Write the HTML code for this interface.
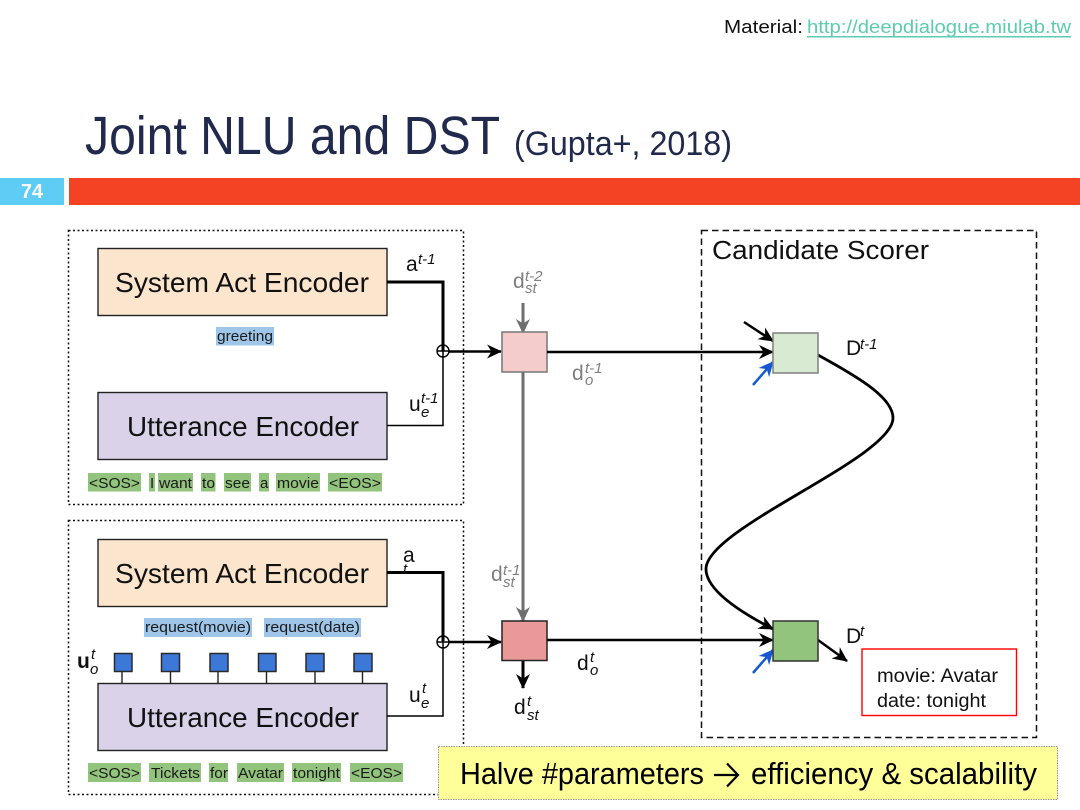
<!DOCTYPE html>
<html><head><meta charset="utf-8"><style>
html,body{margin:0;padding:0;background:#fff}
svg{display:block}
text{font-family:"Liberation Sans",sans-serif;fill:#111}
.enc{font-size:28px}
.tok{font-size:15px;fill:#1a1a1a}
.lb{font-size:21px}
.it{font-style:italic;font-size:15px}
</style></head><body>
<svg width="1080" height="810" viewBox="0 0 1080 810" xmlns="http://www.w3.org/2000/svg">
<defs>
<marker id="k" markerUnits="userSpaceOnUse" markerWidth="16" markerHeight="16" refX="14" refY="8" orient="auto"><path d="M0 1 L15 8 L0 15 L4.500 8 Z" fill="#000"/></marker>
<marker id="gr" markerUnits="userSpaceOnUse" markerWidth="16" markerHeight="16" refX="14" refY="8" orient="auto"><path d="M0 1 L15 8 L0 15 L4.500 8 Z" fill="#6f6f6f"/></marker>
<marker id="bl" markerUnits="userSpaceOnUse" markerWidth="16" markerHeight="16" refX="14" refY="8" orient="auto"><path d="M0 1 L15 8 L0 15 L4.500 8 Z" fill="#1558d6"/></marker>
</defs>

<text x="724" y="33" font-size="18.500" textLength="79" lengthAdjust="spacingAndGlyphs">Material:</text>
<text x="807" y="33" font-size="18.500" style="fill:#5ccbb0" textLength="264" lengthAdjust="spacingAndGlyphs">http://deepdialogue.miulab.tw</text>
<rect x="807" y="36" width="264" height="1.500" fill="#5ccbb0"/>

<text x="85" y="154" font-size="54" style="fill:#212a4c" textLength="415" lengthAdjust="spacingAndGlyphs">Joint NLU and DST</text>
<text x="514" y="155" font-size="34" style="fill:#212a4c" textLength="218" lengthAdjust="spacingAndGlyphs">(Gupta+, 2018)</text>

<rect x="0" y="178" width="64" height="27" fill="#5ecdf5"/>
<rect x="69" y="178" width="1011" height="27" fill="#f44225"/>
<text x="32" y="198" font-size="20" font-weight="bold" text-anchor="middle" style="fill:#fff" textLength="22" lengthAdjust="spacingAndGlyphs">74</text>

<rect x="68.500" y="230.500" width="395" height="274" fill="none" stroke="#111" stroke-width="1.500" stroke-dasharray="2 2.500"/>
<rect x="68.500" y="520.500" width="395" height="274" fill="none" stroke="#111" stroke-width="1.500" stroke-dasharray="2 2.500"/>
<rect x="701.500" y="230.500" width="335" height="507" fill="none" stroke="#111" stroke-width="1.500" stroke-dasharray="6.500 4"/>

<g stroke="#222" stroke-width="1.400">
<rect x="98" y="248.500" width="289" height="67" fill="#fce5cd"/>
<rect x="98" y="392.500" width="289" height="67" fill="#d9d2e9"/>
<rect x="98" y="539.500" width="289" height="67" fill="#fce5cd"/>
<rect x="98" y="683.500" width="289" height="67" fill="#d9d2e9"/>
</g>
<text class="enc" x="115" y="292" textLength="254" lengthAdjust="spacingAndGlyphs">System Act Encoder</text>
<text class="enc" x="127" y="436" textLength="232" lengthAdjust="spacingAndGlyphs">Utterance Encoder</text>
<text class="enc" x="115" y="583" textLength="254" lengthAdjust="spacingAndGlyphs">System Act Encoder</text>
<text class="enc" x="127" y="727" textLength="232" lengthAdjust="spacingAndGlyphs">Utterance Encoder</text>

<g fill="#9fc5e8">
<rect x="216" y="327" width="58" height="18.500"/>
<rect x="144" y="618" width="108" height="19"/>
<rect x="264" y="618" width="97" height="19"/>
</g>
<g fill="#93c47d">
<rect x="88" y="473" width="53" height="18.500"/><rect x="149" y="473" width="6" height="18.500"/><rect x="158" y="473" width="35" height="18.500"/><rect x="201" y="473" width="14.500" height="18.500"/><rect x="224" y="473" width="27" height="18.500"/><rect x="259" y="473" width="10" height="18.500"/><rect x="276" y="473" width="44" height="18.500"/><rect x="328" y="473" width="54" height="18.500"/>
<rect x="88" y="763" width="53" height="19"/><rect x="149" y="763" width="52" height="19"/><rect x="209" y="763" width="19" height="19"/><rect x="237" y="763" width="47" height="19"/><rect x="292" y="763" width="49" height="19"/><rect x="350" y="763" width="53" height="19"/>
</g>
<text class="tok" x="217" y="341" textLength="56" lengthAdjust="spacingAndGlyphs">greeting</text>
<text class="tok" x="145" y="632" textLength="106" lengthAdjust="spacingAndGlyphs">request(movie)</text>
<text class="tok" x="265" y="632" textLength="95" lengthAdjust="spacingAndGlyphs">request(date)</text>
<text class="tok" x="89" y="488" textLength="51" lengthAdjust="spacingAndGlyphs">&lt;SOS&gt;</text>
<text class="tok" x="150" y="488">I</text>
<text class="tok" x="159" y="488" textLength="33" lengthAdjust="spacingAndGlyphs">want</text>
<text class="tok" x="202" y="488" textLength="13" lengthAdjust="spacingAndGlyphs">to</text>
<text class="tok" x="225" y="488" textLength="25" lengthAdjust="spacingAndGlyphs">see</text>
<text class="tok" x="260" y="488">a</text>
<text class="tok" x="277" y="488" textLength="42" lengthAdjust="spacingAndGlyphs">movie</text>
<text class="tok" x="329" y="488" textLength="52" lengthAdjust="spacingAndGlyphs">&lt;EOS&gt;</text>
<text class="tok" x="89" y="778" textLength="51" lengthAdjust="spacingAndGlyphs">&lt;SOS&gt;</text>
<text class="tok" x="151" y="778" textLength="49" lengthAdjust="spacingAndGlyphs">Tickets</text>
<text class="tok" x="210" y="778" textLength="18" lengthAdjust="spacingAndGlyphs">for</text>
<text class="tok" x="238" y="778" textLength="45" lengthAdjust="spacingAndGlyphs">Avatar</text>
<text class="tok" x="293" y="778" textLength="47" lengthAdjust="spacingAndGlyphs">tonight</text>
<text class="tok" x="351" y="778" textLength="51" lengthAdjust="spacingAndGlyphs">&lt;EOS&gt;</text>

<g fill="#3c78d8" stroke="#2a2a2a" stroke-width="1.500">
<rect x="114.500" y="653.500" width="17.500" height="18"/><rect x="161.500" y="653.500" width="18" height="18"/><rect x="210" y="653.500" width="18" height="18"/><rect x="258.500" y="653.500" width="17.500" height="18"/><rect x="306" y="653.500" width="18" height="18"/><rect x="354" y="653.500" width="18" height="18"/>
</g>
<path d="M122 672V684M170.500 672V684M218 672V684M266.500 672V684M315 672V684M362.500 672V684" fill="none" stroke="#222" stroke-width="1.400"/>

<g fill="none" stroke="#000">
<path d="M387 282H443V351" stroke-width="3"/>
<path d="M387 425.500H443V351" stroke-width="1.500"/>
<path d="M387 572.500H443V641" stroke-width="3"/>
<path d="M387 716H443V641" stroke-width="1.500"/>
<circle cx="443" cy="351" r="6" stroke-width="1.400"/>
<circle cx="443" cy="642" r="6" stroke-width="1.400"/>
<path d="M437 351H449M437 642H449" stroke-width="1.400"/>
<path d="M449 351.500H501" stroke-width="2.500" marker-end="url(#k)"/>
<path d="M449 642H501" stroke-width="2.500" marker-end="url(#k)"/>
</g>

<g fill="none" stroke="#6f6f6f" stroke-width="3">
<path d="M523 303V333" marker-end="url(#gr)"/>
<path d="M523 372V621" marker-end="url(#gr)"/>
</g>
<rect x="502" y="332" width="45" height="40" fill="#f4cccc" stroke="#777" stroke-width="1.500"/>
<rect x="502" y="621" width="45" height="39.500" fill="#ea9999" stroke="#222" stroke-width="1.500"/>

<g fill="none" stroke="#000">
<path d="M547 352H773" stroke-width="2.500" marker-end="url(#k)"/>
<path d="M547 640H773" stroke-width="2.500" marker-end="url(#k)"/>
<path d="M523 661V688" stroke-width="3" marker-end="url(#k)"/>
<path d="M744 322L773 341" stroke-width="2.500" marker-end="url(#k)"/>
<path d="M818 640L847 661" stroke-width="2.500" marker-end="url(#k)"/>
<path d="M818 355C860 378 893 398 893 418C893 458 706 528 706 569C706 590 740 612 773 629" stroke-width="2.800" marker-end="url(#k)"/>
<path d="M753 385L773 362" stroke="#1558d6" stroke-width="2.500" marker-end="url(#bl)"/>
<path d="M753 673L773 650" stroke="#1558d6" stroke-width="2.500" marker-end="url(#bl)"/>
</g>
<rect x="773" y="333" width="45" height="40" fill="#d9ead3" stroke="#808080" stroke-width="1.500"/>
<rect x="773" y="621" width="45" height="40" fill="#93c47d" stroke="#333" stroke-width="1.500"/>

<text class="lb" x="406" y="271">a</text><text class="it" x="418" y="264">t-1</text>
<text class="lb" x="409" y="411">u</text><text class="it" x="421" y="403">t-1</text><text class="it" x="421" y="417">e</text>
<text class="lb" x="403" y="562">a</text><text class="it" x="403" y="574">t</text>
<text class="lb" x="409" y="702">u</text><text class="it" x="422" y="693">t</text><text class="it" x="421" y="708">e</text>
<text class="lb" x="77" y="668" font-weight="bold">u</text><text class="it" x="91" y="659">t</text><text class="it" x="90" y="674">o</text>
<text class="lb" style="fill:#7f7f7f" x="513" y="288">d</text><text class="it" style="fill:#7f7f7f" x="525" y="281">t-2</text><text class="it" style="fill:#7f7f7f" x="525" y="293">st</text>
<text class="lb" style="fill:#7f7f7f" x="572" y="380">d</text><text class="it" style="fill:#7f7f7f" x="585" y="373">t-1</text><text class="it" style="fill:#7f7f7f" x="585" y="385">o</text>
<text class="lb" style="fill:#7f7f7f" x="491" y="581">d</text><text class="it" style="fill:#7f7f7f" x="503" y="575">t-1</text><text class="it" style="fill:#7f7f7f" x="503" y="587">st</text>
<text class="lb" x="577" y="670">d</text><text class="it" x="590" y="662">t</text><text class="it" x="590" y="675">o</text>
<text class="lb" x="514" y="714">d</text><text class="it" x="527" y="706">t</text><text class="it" x="527" y="720">st</text>
<text class="lb" x="846" y="355">D</text><text class="it" x="860" y="349">t-1</text>
<text class="lb" x="846" y="643">D</text><text class="it" x="860" y="636">t</text>

<text x="712" y="259" font-size="25.500" textLength="217" lengthAdjust="spacingAndGlyphs">Candidate Scorer</text>

<rect x="862" y="649" width="154.500" height="66.500" fill="#fff" stroke="#f00" stroke-width="1.400"/>
<text x="877" y="682" font-size="19" textLength="121" lengthAdjust="spacingAndGlyphs">movie: Avatar</text>
<text x="877" y="707" font-size="19" textLength="109" lengthAdjust="spacingAndGlyphs">date: tonight</text>

<rect x="438.500" y="746.500" width="619" height="53" fill="#ffff99" stroke="#999" stroke-width="1" stroke-dasharray="1.500 1"/>
<text x="460" y="784" font-size="31" style="fill:#000" textLength="244" lengthAdjust="spacingAndGlyphs">Halve #parameters</text>
<path d="M714 775H737M727 763.500L738 775L727 786.500" fill="none" stroke="#000" stroke-width="2.200"/>
<text x="751" y="784" font-size="31" style="fill:#000" textLength="286" lengthAdjust="spacingAndGlyphs">efficiency &amp; scalability</text>
</svg>
</body></html>
